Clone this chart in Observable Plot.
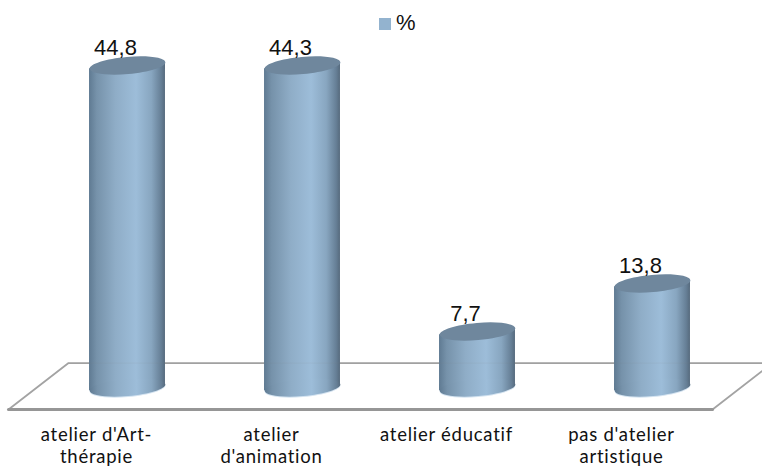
<!DOCTYPE html>
<html lang="fr">
<head>
<meta charset="utf-8">
<script src="https://cdn.jsdelivr.net/npm/d3@7"></script>
<script src="https://cdn.jsdelivr.net/npm/@observablehq/plot@0.6"></script>
<style>
html,body{margin:0;padding:0;background:#fff;overflow:hidden}
#wrap{position:relative;width:762px;height:467px;overflow:hidden}
#legend{position:absolute;left:379px;top:11px;display:flex;align-items:center;font:22px "Liberation Sans",sans-serif;color:#111;line-height:24px}
#legend i{display:block;width:12px;height:12px;background:#93b3cf;margin-right:5px;margin-top:1px}
g[aria-label="x-axis tick label"]{letter-spacing:.75px}
</style>
</head>
<body>
<div id="wrap"><div id="legend"><i></i><span id="legend-name"></span></div></div>
<script>
const seriesName = "%";
const categories = ["atelier d'Art-\nthérapie", "atelier\nd'animation", "atelier éducatif", "pas d'atelier\nartistique"];
const values = [44.8, 44.3, 7.7, 13.8];
const axisMax = 41.5;          // the source chart's value axis stops below the tallest bars
const cylinderBase = 0.58;
const cylinderHalf = 0.217;
const tilt = 0.42;
const floorX = [-0.68, -0.337, 3.686, 3.343, -0.68];
const floorY = [-2.21, 3.69, 3.69, -2.21, -2.21];
const floorFront = [{x: -0.68, y: -2.21}, {x: 3.343, y: -2.21}];
const floorBack = [{x: -0.337, y: 3.69}, {x: 3.686, y: 3.69}];

document.getElementById("legend-name").textContent = seriesName;

const idx = categories.map((_, i) => i);
const rows = idx.map(i => ({i, value: values[i], drawn: Math.min(values[i], axisMax)}));
const bodies = rows.flatMap(d => [
  {i: d.i, x: d.i - cylinderHalf, y1: cylinderBase - tilt, y2: d.drawn - tilt},
  {i: d.i, x: d.i + cylinderHalf, y1: cylinderBase + tilt, y2: d.drawn + tilt}
]);
const floor = floorX.map((x, k) => ({x, y: floorY[k]}));

// A flattened, slightly rotated circle, used as a Plot dot symbol
const disc = {
  draw(ctx, size) {
    const r = Math.sqrt(size / Math.PI), ry = r * 0.225, a = 5 * Math.PI / 180, k = 0.5523;
    const P = (x, y) => [x * Math.cos(a) + y * Math.sin(a), -x * Math.sin(a) + y * Math.cos(a)];
    const c = (p1, p2, p3) => ctx.bezierCurveTo(...P(...p1), ...P(...p2), ...P(...p3));
    ctx.moveTo(...P(r, 0));
    c([r, k * ry], [k * r, ry], [0, ry]);
    c([-k * r, ry], [-r, k * ry], [-r, 0]);
    c([-r, -k * ry], [-k * r, -ry], [0, -ry]);
    c([k * r, -ry], [r, -k * ry], [r, 0]);
    ctx.closePath();
  }
};

const defs = () => {
  const svg = d3.create("svg:defs");
  const g = svg.append("linearGradient").attr("id", "cyl").attr("x1", 0).attr("x2", 1).attr("y1", 0).attr("y2", 0);
  [[0, "#5f7a92"], [0.1, "#7692aa"], [0.35, "#8fadc7"], [0.62, "#9dbdd9"], [0.82, "#88a6c0"], [0.95, "#667f96"], [1, "#566a7d"]]
    .forEach(([o, c]) => g.append("stop").attr("offset", o).attr("stop-color", c));
  return svg.node();
};

const chart = Plot.plot({
  width: 762, height: 467,
  marginTop: 0, marginRight: 0, marginBottom: 58, marginLeft: 0,
  style: {background: "#fff"},
  x: {type: "linear", domain: [-127 / 175, 635 / 175], axis: null},
  y: {domain: [-2.21, 49.76], axis: null},
  marks: [
    defs,
    Plot.line(floor, {x: "x", y: "y", stroke: "#a3a3a3", strokeWidth: 1.8, strokeLinejoin: "miter"}),
    Plot.line(floorFront, {x: "x", y: "y", stroke: "#969696", strokeWidth: 3}),
    Plot.dot(rows, {x: "i", y: cylinderBase, r: 38, symbol: disc, fill: "#d4e3f0", stroke: "none", dy: 1}),
    Plot.areaY(bodies, {x: "x", y1: "y1", y2: "y2", z: "i", fill: "url(#cyl)"}),
    Plot.dot(rows, {x: "i", y: cylinderBase, r: 38, symbol: disc, fill: "url(#cyl)", stroke: "none"}),
    Plot.line(floorBack, {x: "x", y: "y", stroke: "#8a8a8a", strokeWidth: 1, strokeOpacity: 0.1}),
    Plot.dot(rows, {x: "i", y: "drawn", r: 38, symbol: disc, fill: "#6f879d", stroke: "none"}),
    Plot.text(rows, {x: "i", y: "drawn", text: d => String(d.value).replace(".", ","), dx: -12, dy: -11, lineAnchor: "bottom",
      fontSize: 22, fontFamily: "Liberation Sans", fill: "#111"}),
    Plot.axisX({ticks: idx, tickSize: 0, tickPadding: 16, dx: -31, tickFormat: i => categories[i], fontSize: 18.5, fontFamily: "Lato", fill: "#111", lineHeight: 1.19})
  ]
});
document.getElementById("wrap").prepend(chart);
</script>
</body>
</html>
